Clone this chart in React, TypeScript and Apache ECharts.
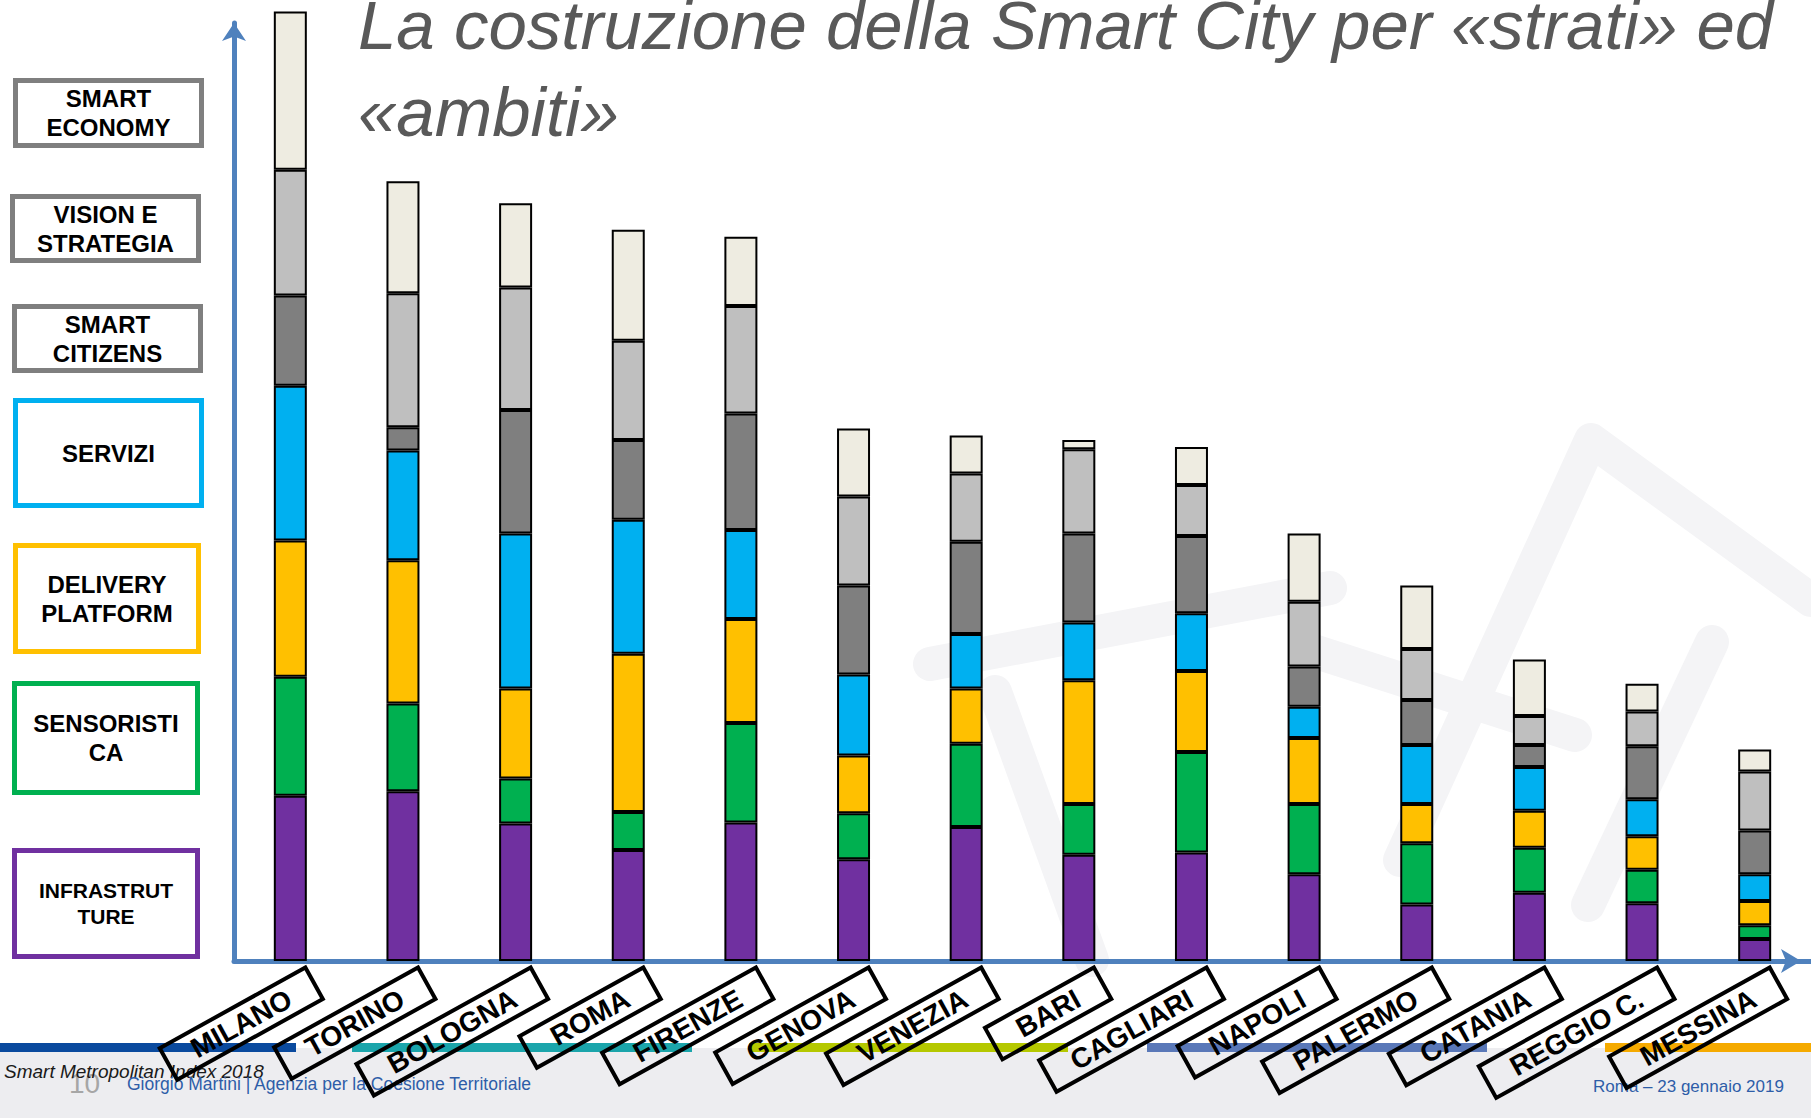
import React, { useEffect, useRef } from "react";
import * as echarts from "echarts";

// ---------- DATA ----------
const categories = [
  "MILANO", "TORINO", "BOLOGNA", "ROMA", "FIRENZE", "GENOVA", "VENEZIA",
  "BARI", "CAGLIARI", "NAPOLI", "PALERMO", "CATANIA", "REGGIO C.", "MESSINA",
];
// stacked layers, bottom to top
const infrastrutture = [143, 147, 119, 96, 120, 88, 116, 92, 94, 75, 49, 59, 50, 19];
const sensoristica = [103, 76, 39, 33, 86, 40, 72, 44, 87, 61, 53, 39, 29, 12];
const deliveryPlatform = [118, 124, 78, 137, 90, 50, 48, 107, 70, 57, 34, 32, 29, 21];
const servizi = [134, 95, 134, 116, 77, 70, 47, 50, 50, 27, 51, 38, 32, 23];
const smartCitizens = [78, 20, 107, 69, 101, 77, 80, 77, 67, 35, 39, 19, 46, 38];
const visionStrategia = [109, 116, 106, 86, 93, 77, 59, 73, 44, 56, 44, 25, 30, 51];
const smartEconomy = [137, 97, 73, 96, 60, 59, 33, 8, 33, 59, 55, 49, 24, 19];

const seriesNames = [
  "Infrastrutture", "Sensoristica", "Delivery platform", "Servizi",
  "Smart citizens", "Vision e strategia", "Smart economy",
];
// legend box labels, top to bottom
const legendLabels = [
  "SMART\nECONOMY", "VISION E\nSTRATEGIA", "SMART\nCITIZENS", "SERVIZI",
  "DELIVERY\nPLATFORM", "SENSORISTI\nCA", "INFRASTRUT\nTURE",
];
const titleText = "La costruzione della Smart City per «strati» ed\n«ambiti»";
const footerLeft = "Smart Metropolitan Index 2018";
const pageNumber = "10";
const footerAuthor = "Giorgio Martini | Agenzia per la Coesione Territoriale";
const footerDate = "Roma – 23 gennaio 2019";

// ---------- STYLE ----------
const FONT = '"Liberation Sans", Arial, Helvetica, sans-serif';
const NARROW = '"Liberation Sans Narrow", "Arial Narrow", "Liberation Sans", Arial, sans-serif';
const AXIS_BLUE = "#4F81BD";
const layerColors = ["#7030A0", "#00B050", "#FFC000", "#00B0F0", "#7F7F7F", "#BFBFBF", "#EEECE1"];
const layerData = [infrastrutture, sensoristica, deliveryPlatform, servizi, smartCitizens, visionStrategia, smartEconomy];

// legend boxes (outer edges), top to bottom
const legendGeom = [
  { x: 13, y: 78, w: 191, h: 70, color: "#7F7F7F", size: 24 },
  { x: 10, y: 194, w: 191, h: 69, color: "#7F7F7F", size: 24 },
  { x: 12, y: 304, w: 191, h: 69, color: "#7F7F7F", size: 24 },
  { x: 13, y: 398, w: 191, h: 110, color: "#00B0F0", size: 24 },
  { x: 13, y: 543, w: 188, h: 111, color: "#FFC000", size: 24 },
  { x: 12, y: 681, w: 188, h: 114, color: "#00B050", size: 24 },
  { x: 12, y: 848, w: 188, h: 111, color: "#7030A0", size: 21 },
];

function buildOption() {
  const legendEls: any[] = [];
  legendGeom.forEach((g, i) => {
    const bw = 5;
    legendEls.push({
      type: "rect",
      z: 5,
      shape: { x: g.x + bw / 2, y: g.y + bw / 2, width: g.w - bw, height: g.h - bw },
      style: { fill: "#ffffff", stroke: g.color, lineWidth: bw },
    });
    legendEls.push({
      type: "text",
      z: 6,
      style: {
        text: legendLabels[i],
        x: g.x + g.w / 2,
        y: g.y + g.h / 2,
        align: "center",
        verticalAlign: "middle",
        textAlign: "center",
        textVerticalAlign: "middle",
        font: `bold ${g.size}px ${FONT}`,
        lineHeight: g.size === 21 ? 26 : 29,
        fill: "#000000",
      },
    });
  });

  const wmStyle = { stroke: "#F4F4F6", lineWidth: 34, lineCap: "round", lineJoin: "round", fill: null };
  const watermark = [
    { type: "polyline", z: -2, shape: { points: [[930, 664], [1330, 588]] }, style: wmStyle },
    { type: "polyline", z: -2, shape: { points: [[995, 692], [1092, 960]] }, style: wmStyle },
    { type: "polyline", z: -2, shape: { points: [[1307, 649], [1575, 735]] }, style: wmStyle },
    { type: "polyline", z: -2, shape: { points: [[1400, 860], [1591, 440], [1811, 600]] }, style: wmStyle },
    { type: "polyline", z: -2, shape: { points: [[1712, 642], [1588, 905]] }, style: wmStyle },
  ];

  const footerBands = [
    { x0: 0, x1: 296, color: "#0A4A9E" },
    { x0: 352, x1: 692, color: "#1BA5AB" },
    { x0: 749, x1: 1068, color: "#B5C800" },
    { x0: 1147, x1: 1487, color: "#5A78B8" },
    { x0: 1605, x1: 1811, color: "#F5AA00" },
  ];
  const footer: any[] = [
    { type: "rect", z: -1, shape: { x: 0, y: 1048, width: 1811, height: 70 }, style: { fill: "#EDEDF0" } },
    ...footerBands.map((b) => ({
      type: "rect",
      z: -1,
      shape: { x: b.x0, y: 1043, width: b.x1 - b.x0, height: 9 },
      style: { fill: b.color },
    })),
    {
      type: "text", z: 1,
      style: { text: footerLeft, x: 4, y: 1071, verticalAlign: "middle", textVerticalAlign: "middle", font: `italic 19px ${FONT}`, fill: "#1a1a1a" },
    },
    {
      type: "text", z: 0,
      style: { text: pageNumber, x: 69, y: 1083, verticalAlign: "middle", textVerticalAlign: "middle", font: `28px ${NARROW}`, fill: "#A6A6A6" },
    },
    {
      type: "text", z: 1,
      style: { text: footerAuthor, x: 127, y: 1084, verticalAlign: "middle", textVerticalAlign: "middle", font: `17.5px ${FONT}`, fill: "#2E5DA8" },
    },
    {
      type: "text", z: 1,
      style: { text: footerDate, x: 1593, y: 1086, verticalAlign: "middle", textVerticalAlign: "middle", font: `17px ${FONT}`, fill: "#2E5DA8" },
    },
  ];

  const series = layerData.map((data, i) => ({
    type: "bar",
    name: seriesNames[i],
    stack: "strati",
    data,
    barWidth: 33,
    clip: false,
    z: 3,
    itemStyle: { color: layerColors[i], borderColor: "#000000", borderWidth: 2 },
    emphasis: { disabled: true },
    label:
      i === 0
        ? {
            show: true,
            position: "bottom",
            distance: 0,
            formatter: "{b}",
            rotate: 29,
            offset: [10, 31],
            align: "right",
            verticalAlign: "middle",
            fontFamily: FONT,
            fontWeight: "bold",
            fontSize: 28,
            lineHeight: 30,
            color: "#000000",
            borderColor: "#000000",
            borderWidth: 4,
            padding: [3, 28, 3, 28],
          }
        : { show: false },
  }));

  return {
    animation: false,
    backgroundColor: "#ffffff",
    title: {
      text: titleText,
      left: 358,
      top: -18,
      padding: 0,
      textStyle: {
        fontFamily: FONT,
        fontStyle: "italic",
        fontWeight: "normal",
        fontSize: 69,
        lineHeight: 87,
        color: "#595959",
      },
    },
    grid: { left: 234, right: 0, top: 23, bottom: 157, containLabel: false },
    xAxis: {
      type: "category",
      data: categories,
      axisLine: {
        show: true,
        lineStyle: { color: AXIS_BLUE, width: 5 },
        symbol: ["none", "arrow"],
        symbolSize: [18, 20],
        symbolOffset: [0, -10],
      },
      axisTick: { show: false },
      axisLabel: { show: false },
      splitLine: { show: false },
    },
    yAxis: {
      type: "value",
      min: 0,
      max: 812,
      axisLine: {
        show: true,
        lineStyle: { color: AXIS_BLUE, width: 5 },
        symbol: ["none", "arrow"],
        symbolSize: [18, 18],
      },
      axisTick: { show: false },
      axisLabel: { show: false },
      splitLine: { show: false },
    },
    graphic: { elements: [...watermark, ...footer, ...legendEls] },
    series,
  };
}

export default function App() {
  const ref = useRef<HTMLDivElement>(null);
  useEffect(() => {
    if (!ref.current) return;
    const chart = echarts.init(ref.current, null, { renderer: "svg" });
    chart.setOption(buildOption() as any);
    return () => chart.dispose();
  }, []);
  return (
    <div
      ref={ref}
      style={{ position: "fixed", left: 0, top: 0, width: 1811, height: 1118, background: "#ffffff" }}
    />
  );
}
